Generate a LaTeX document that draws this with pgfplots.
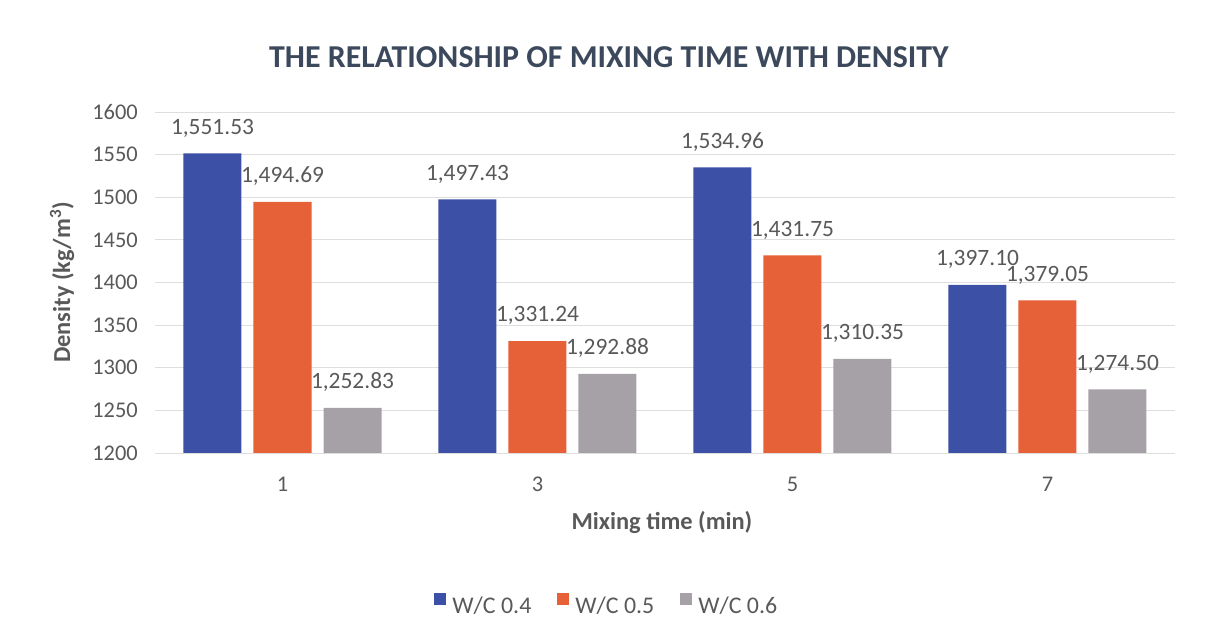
\documentclass[border=0pt]{standalone}
\usepackage{pgfplots}
\pgfplotsset{compat=1.18}
\usepackage{fontspec}
\setmainfont{Carlito}
\definecolor{cblue}{RGB}{60,80,165}
\definecolor{corange}{RGB}{230,96,56}
\definecolor{cgray}{RGB}{166,161,166}
\definecolor{ctitle}{RGB}{60,72,92}
\definecolor{ctick}{RGB}{89,89,89}
\definecolor{cgrid}{RGB}{222,222,222}
\begin{document}
\begin{tikzpicture}
\useasboundingbox (0,0) rectangle (1213bp,641bp);
\begin{axis}[
  at={(155bp,188bp)}, anchor=south west,
  scale only axis, width=1020bp, height=341bp,
  xmin=-0.5, xmax=3.5, ymin=1200, ymax=1600,
  ytick={1200,1250,...,1600},
  xtick={0,1,2,3}, xticklabels={1,3,5,7},
  major tick length=0pt,
  ymajorgrids, grid style={cgrid, line width=0.8bp},
  axis line style={draw=none},
  axis x line*=bottom, axis y line*=left,
  x axis line style={draw=cgrid, line width=0.8bp},
  y axis line style={draw=none},
  ybar=12bp, bar width=58bp,
  /pgf/number format/assume math mode=true,
  yticklabel style={font=\fontsize{22.5}{26}\selectfont, text=ctick, inner sep=0pt, anchor=east, xshift=-17bp, /pgf/number format/1000 sep={}},
  xticklabel style={font=\fontsize{22.5}{26}\selectfont, text=ctick, inner sep=0pt, anchor=north, yshift=-24bp},
  title={THE RELATIONSHIP OF MIXING TIME WITH DENSITY},
  title style={font=\fontsize{32}{36}\selectfont\bfseries, text=ctitle, at={(0.445,1.143)}, anchor=center, inner sep=0pt},
  xlabel={Mixing time (min)},
  xlabel style={font=\fontsize{24.5}{28}\selectfont\bfseries, text=ctick, at={(0.497,-0.205)}, anchor=center, inner sep=0pt},
  ylabel={Density (kg/m\textsuperscript{3})},
  ylabel style={font=\fontsize{24.5}{28}\selectfont\bfseries, text=ctick, at={(-0.091,0.5)}, anchor=center, inner sep=0pt},
  nodes near coords={\pgfmathprintnumber[fixed,fixed zerofill,precision=2,1000 sep={,}]{\pgfplotspointmeta}},
  nodes near coords style={font=\fontsize{23.5}{27}\selectfont, text=ctick, inner sep=0pt, anchor=south, yshift=16bp},
  legend columns=3,
  legend style={draw=none, fill=none, at={(0.443,-0.446)}, anchor=center, font=\fontsize{24}{28}\selectfont, text=ctick,
    /tikz/every even column/.append style={column sep=24bp},
    /tikz/every odd column/.append style={column sep=4bp}},
  legend image code/.code={\fill[#1] (0bp,1bp) rectangle (12bp,13bp);},
]
\addplot[fill=cblue, draw=none] coordinates {(0,1551.53) (1,1497.43) (2,1534.96) (3,1397.10)};
\addplot[fill=corange, draw=none] coordinates {(0,1494.69) (1,1331.24) (2,1431.75) (3,1379.05)};
\addplot[fill=cgray, draw=none] coordinates {(0,1252.83) (1,1292.88) (2,1310.35) (3,1274.50)};
\legend{W/C 0.4, W/C 0.5, W/C 0.6}
\end{axis}
\end{tikzpicture}
\end{document}
